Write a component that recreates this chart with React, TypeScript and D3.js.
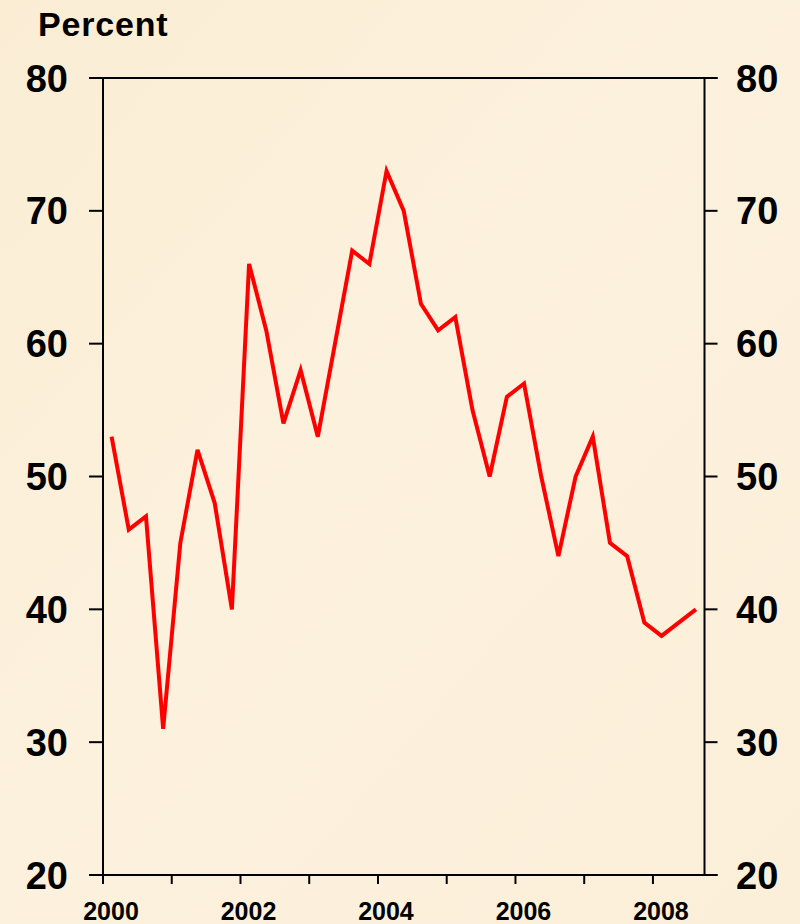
import React from "react";
import * as d3 from "d3";

const values: number[] = [
  53, 46, 47, 31, 45, 52, 48, 40,
  66, 61, 54, 58, 53, 60, 67, 66,
  73, 70, 63, 61, 62, 55, 50, 56,
  57, 50, 44, 50, 53, 45, 44, 39,
  38, 39, 40,
];
const startYear = 2000;
const yTicks: number[] = [20, 30, 40, 50, 60, 70, 80];
const xTicks: number[] = [2000, 2001, 2002, 2003, 2004, 2005, 2006, 2007, 2008];
const xLabels: number[] = [2000, 2002, 2004, 2006, 2008];
const yTitle = "Percent";

const W = 800;
const H = 924;

export default function App() {
  const x = d3.scaleLinear().domain([2000, 2008.75]).range([103, 704.5]);
  const y = d3.scaleLinear().domain([20, 80]).range([875, 78]);
  const data = values.map((v, i) => ({ t: startYear + i * 0.25 + 0.125, v }));
  const line = d3
    .line<{ t: number; v: number }>()
    .x((d) => x(d.t))
    .y((d) => y(d.v));
  const font = "'Liberation Sans', Arial, Helvetica, sans-serif";
  const x0 = x.range()[0];
  const x1 = x.range()[1];
  const yTop = y(80);
  const yBot = y(20);
  return (
    <svg
      width={W}
      height={H}
      style={{ position: "absolute", left: 0, top: 0 }}
      fontFamily={font}
    >
      <defs>
        <linearGradient id="bg" x1="0" y1="0" x2="1" y2="1">
          <stop offset="0" stopColor="#FAEDD4" />
          <stop offset="0.45" stopColor="#FCF1DD" />
          <stop offset="1" stopColor="#FBEFD9" />
        </linearGradient>
      </defs>
      <rect x={0} y={0} width={W} height={H} fill="url(#bg)" />
      <text x={38} y={36} fontSize={34} fontWeight="bold" letterSpacing={0.8} fill="#000">
        {yTitle}
      </text>
      {/* frame */}
      <line x1={x0 - 14} x2={x1 + 13} y1={yTop} y2={yTop} stroke="#000" strokeWidth={2} />
      <line x1={x0 - 14} x2={x1 + 13} y1={yBot} y2={yBot} stroke="#000" strokeWidth={2} />
      <line x1={x0} x2={x0} y1={yTop} y2={yBot} stroke="#000" strokeWidth={2} />
      <line x1={x1} x2={x1} y1={yTop} y2={yBot} stroke="#000" strokeWidth={2} />
      {yTicks.map((t) => (
        <g key={t}>
          <line x1={x0 - 14} x2={x0} y1={y(t)} y2={y(t)} stroke="#000" strokeWidth={2} />
          <line x1={x1} x2={x1 + 13} y1={y(t)} y2={y(t)} stroke="#000" strokeWidth={2} />
          <text
            x={68}
            y={y(t)}
            dy={13.5}
            textAnchor="end"
            fontSize={38}
            fontWeight="bold"
            fill="#000"
          >
            {t}
          </text>
          <text
            x={736}
            y={y(t)}
            dy={13.5}
            textAnchor="start"
            fontSize={38}
            fontWeight="bold"
            fill="#000"
          >
            {t}
          </text>
        </g>
      ))}
      {xTicks.map((t) => (
        <line key={t} x1={x(t)} x2={x(t)} y1={yBot} y2={yBot + 9} stroke="#000" strokeWidth={2} />
      ))}
      {xLabels.map((t) => (
        <text
          key={t}
          x={x(t) + 8}
          y={920}
          textAnchor="middle"
          fontSize={25}
          fontWeight="bold"
          fill="#000"
        >
          {t}
        </text>
      ))}
      <path
        d={line(data) || ""}
        fill="none"
        stroke="#FF0000"
        strokeWidth={4}
        strokeLinejoin="miter"
      />
    </svg>
  );
}
